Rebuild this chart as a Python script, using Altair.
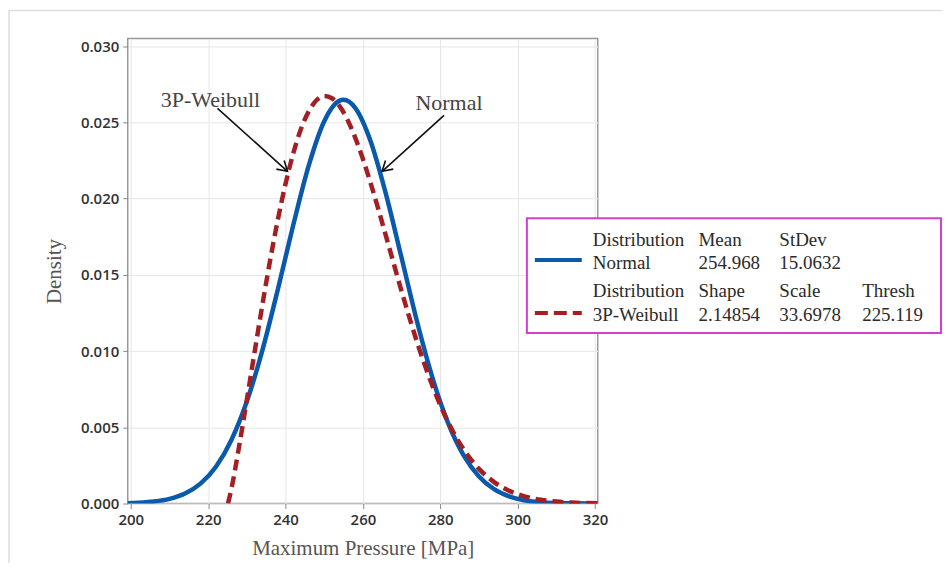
import altair as alt
import pandas as pd

# ---- Data ----
normal_x = [198, 202, 206, 210, 214, 218, 222, 226, 230, 234, 238, 242, 246, 250, 254, 255,
            258, 262, 266, 270, 274, 278, 282, 286, 290, 294, 298, 302, 306, 310, 314, 318, 322]
normal_y = [0.0000207, 0.0000547, 0.000134, 0.000308, 0.000655, 0.001304, 0.002413, 0.004168,
            0.006703, 0.01005, 0.01404, 0.01828, 0.02218, 0.02508, 0.02643, 0.02648,
            0.02595, 0.02375, 0.02025, 0.01610, 0.01192, 0.00823, 0.00529, 0.00317,
            0.00177, 0.000922, 0.000448, 0.000202, 0.0000852, 0.0000334, 0.0000122,
            0.0000042, 0.0000013]

weibull_x = [225.119, 226, 228, 230, 232, 234, 236, 238, 240, 242, 244, 246, 248, 250, 252,
             254, 256, 258, 260, 262, 264, 266, 268, 270, 274, 278, 282, 286, 290, 294, 298,
             302, 306, 310, 314, 318, 322]
weibull_y = [0.0, 0.00097, 0.003765, 0.006822, 0.00995, 0.01302, 0.01594, 0.01861, 0.02098,
             0.02298, 0.02458, 0.02573, 0.02645, 0.02673, 0.02658, 0.02605, 0.02518, 0.02400,
             0.02260, 0.02100, 0.01929, 0.01750, 0.01570, 0.01392, 0.01058, 0.00769, 0.00535,
             0.00356, 0.002275, 0.001391, 0.000815, 0.000457, 0.000246, 0.000127, 0.0000629,
             0.0000298, 0.0000135]

x_ticks = [200, 220, 240, 260, 280, 300, 320]
y_ticks = [0.000, 0.005, 0.010, 0.015, 0.020, 0.025, 0.030]

ann_labels = ["3P-Weibull", "Normal"]
ann_text_x = [220.6, 282.25]
ann_text_y = [0.02644, 0.02625]
arrow_x0 = [222.4, 280.96]
arrow_y0 = [0.02592, 0.02546]
arrow_x1 = [240.5, 264.97]
arrow_y1 = [0.02179, 0.02179]
arrow_angle = [42, 138]

legend_rows = [
    ["Distribution", "Mean", "StDev", ""],
    ["Normal", "254.968", "15.0632", ""],
    ["Distribution", "Shape", "Scale", "Thresh"],
    ["3P-Weibull", "2.14854", "33.6978", "225.119"],
]

# ---- Style / layout ----
BLUE = "#0A5AAB"
RED = "#A31F24"
MAGENTA = "#D63CD6"
W, H = 471, 466
X_DOMAIN = [199.2, 320.7]
Y_DOMAIN = [0, 0.0305]
SERIF = "Liberation Serif"

legend_col_x = [466, 572, 653, 736]
legend_row_y = [201.5, 225, 253, 277]

xscale = alt.Scale(domain=X_DOMAIN, nice=False, zero=False)
yscale = alt.Scale(domain=Y_DOMAIN, nice=False)

axis_style = dict(
    labelFont="Open Sans", labelFontSize=15, labelFontWeight=600, labelColor="#333",
    tickColor="#888", tickSize=5, labelPadding=4, domain=False,
    grid=True, gridColor="#e6e6e6", gridWidth=1,
    titleFont=SERIF, titleFontSize=21, titleFontWeight="normal", titleColor="#555",
    labelFlush=False, labelOverlap=False, titleBaseline="middle",
)
xaxis = alt.Axis(values=x_ticks, format="d", title="Maximum Pressure [MPa]",
                 titleX=W / 2, titleY=45, **axis_style)
yaxis = alt.Axis(values=y_ticks, format=".3f", title="Density",
                 titleX=-73, titleY=H / 2, **axis_style)

df_n = pd.DataFrame({"x": normal_x, "y": normal_y})
df_w = pd.DataFrame({"x": weibull_x, "y": weibull_y})
df_a = pd.DataFrame({"label": ann_labels, "tx": ann_text_x, "ty": ann_text_y,
                     "x0": arrow_x0, "y0": arrow_y0, "x1": arrow_x1, "y1": arrow_y1,
                     "angle": arrow_angle})

normal_line = alt.Chart(df_n).mark_line(color=BLUE, strokeWidth=4.5, clip=True,
                                        interpolate="monotone").encode(
    x=alt.X("x:Q", scale=xscale, axis=xaxis),
    y=alt.Y("y:Q", scale=yscale, axis=yaxis),
)
weibull_line = alt.Chart(df_w).mark_line(color=RED, strokeWidth=4.5, strokeDash=[11, 6],
                                         clip=True, interpolate="monotone").encode(
    x=alt.X("x:Q", scale=xscale, axis=xaxis),
    y=alt.Y("y:Q", scale=yscale, axis=yaxis),
)

ann_text = alt.Chart(df_a).mark_text(font=SERIF, fontSize=22, color="#444",
                                     align="center", baseline="middle").encode(
    x="tx:Q", y="ty:Q", text="label:N")
ann_shaft = alt.Chart(df_a).mark_rule(color="#111", strokeWidth=1.6).encode(
    x="x0:Q", y="y0:Q", x2="x1:Q", y2="y1:Q")
ann_head = alt.Chart(df_a).mark_point(shape="M-1,-0.6L0,0L-1,0.6", filled=False,
                                      size=380, color="#111", strokeWidth=1.6,
                                      opacity=1).encode(
    x="x1:Q", y="y1:Q", angle=alt.Angle("angle:Q", scale=None))

one = pd.DataFrame({"k": [0]})

# outer light frame (top and left edges)
outer_top = alt.Chart(one).mark_rule(color="#dddddd", strokeWidth=1.5).encode(
    x=alt.value(-119), x2=alt.value(816), y=alt.value(-28))
outer_left = alt.Chart(one).mark_rule(color="#dddddd", strokeWidth=1.5).encode(
    x=alt.value(-119), y=alt.value(-28), y2=alt.value(526))

legend_box = alt.Chart(one).mark_rect(fill="white", stroke=MAGENTA, strokeWidth=2).encode(
    x=alt.value(400), x2=alt.value(815), y=alt.value(180), y2=alt.value(295))
legend_blue = alt.Chart(one).mark_rule(color=BLUE, strokeWidth=4).encode(
    x=alt.value(408), x2=alt.value(455), y=alt.value(222))
legend_red = alt.Chart(one).mark_rule(color=RED, strokeWidth=4, strokeDash=[13, 6]).encode(
    x=alt.value(408), x2=alt.value(455), y=alt.value(275))

legend_texts = []
for ri, row in enumerate(legend_rows):
    for ci, lab in enumerate(row):
        if not lab:
            continue
        legend_texts.append(
            alt.Chart(pd.DataFrame({"label": [lab]})).mark_text(
                font=SERIF, fontSize=19, color="#2a2a2a", align="left", baseline="middle",
                x=legend_col_x[ci], y=legend_row_y[ri]).encode(text="label:N")
        )

chart = alt.layer(
    outer_top, outer_left,
    normal_line, weibull_line, ann_shaft, ann_head, ann_text,
    legend_box, legend_blue, legend_red, *legend_texts,
).properties(
    width=W, height=H,
    background="white",
    autosize=alt.AutoSizeParams(type="none"),
    padding={"left": 120, "top": 30, "right": 345, "bottom": 59},
).configure_view(
    stroke="#999999", strokeWidth=1.5
)

chart.save("out.html", embed_options={"renderer": "svg", "actions": False})
